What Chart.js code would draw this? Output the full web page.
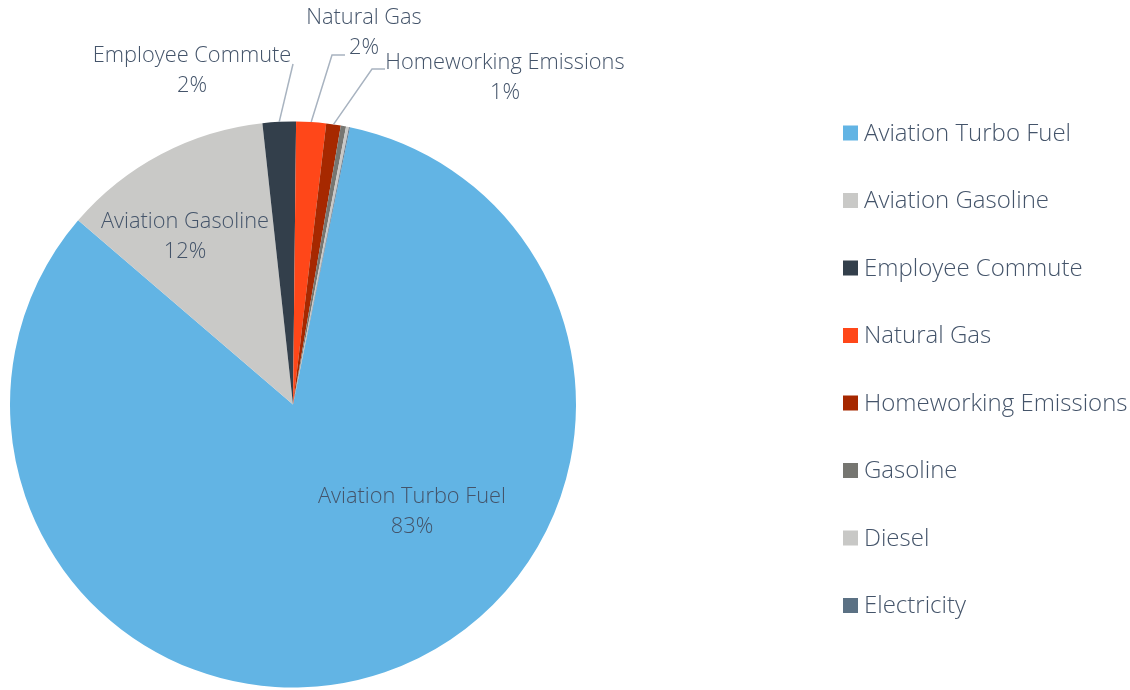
<!DOCTYPE html>
<html>
<head>
<meta charset="utf-8">
<script src="https://cdn.jsdelivr.net/npm/chart.js@4"></script>
<style>
  html, body { margin: 0; padding: 0; background: #fff; }
  #wrap { width: 1130px; height: 690px; position: relative; }
</style>
</head>
<body>
<div id="wrap"><canvas id="pie"></canvas></div>
<script>
// Emission sources and their share (%)
const categories = [
    'Aviation Turbo Fuel', 'Aviation Gasoline', 'Employee Commute', 'Natural Gas',
    'Homeworking Emissions', 'Gasoline', 'Diesel', 'Electricity'
];
const shares = [83.1, 12.0, 1.9, 1.7, 0.83, 0.3, 0.17, 0.05];

const colours = ['#62B4E4', '#C9C9C7', '#333F4B', '#FF4719', '#A62800', '#767671', '#C8C8C6', '#5B7184'];
const textColour = '#44546A';
const leaderColour = '#A8B3C0';

// where each data label sits on the canvas (style only, not data)
const labelPlacement = [
    { text: [412, 512] },
    { text: [185, 237] },
    { text: [192, 71], elbow: [293, 64] },
    { text: [364, 33], elbow: [332, 55], stub: [345, 55] },
    { text: [505, 78], elbow: [372, 69], stub: [385, 69] },
    null, null, null
];

const pieLabels = {
    id: 'pieLabels',
    afterDatasetsDraw(chart) {
        const ctx = chart.ctx;
        const meta = chart.getDatasetMeta(0);
        const total = shares.reduce((a, b) => a + b, 0);
        ctx.save();
        ctx.font = '300 21.8px "Open Sans"';
        ctx.fillStyle = textColour;
        ctx.textAlign = 'center';
        ctx.textBaseline = 'middle';
        meta.data.forEach((arc, i) => {
            const p = labelPlacement[i];
            if (!p) return;
            const pct = Math.round(shares[i] / total * 100) + '%';
            if (p.elbow) {
                const mid = (arc.startAngle + arc.endAngle) / 2;
                const sx = arc.x + arc.outerRadius * Math.cos(mid);
                const sy = arc.y + arc.outerRadius * Math.sin(mid);
                ctx.strokeStyle = leaderColour;
                ctx.lineWidth = 1.5;
                ctx.beginPath();
                ctx.moveTo(sx, sy);
                ctx.lineTo(p.elbow[0], p.elbow[1]);
                if (p.stub) ctx.lineTo(p.stub[0], p.stub[1]);
                ctx.stroke();
            }
            ctx.fillText(categories[i], p.text[0], p.text[1] - 15);
            ctx.fillText(pct, p.text[0], p.text[1] + 15);
        });
        ctx.restore();
    }
};

const sideLegend = {
    id: 'sideLegend',
    afterDraw(chart) {
        const ctx = chart.ctx;
        ctx.save();
        ctx.font = '300 24px "Open Sans"';
        ctx.textBaseline = 'middle';
        ctx.textAlign = 'left';
        categories.forEach((name, i) => {
            const y = 133 + i * 67.5;
            ctx.fillStyle = colours[i];
            ctx.fillRect(843, y - 7.5, 15, 15);
            ctx.fillStyle = textColour;
            ctx.fillText(name, 864, y + 1);
        });
        ctx.restore();
    }
};

new Chart(document.getElementById('pie'), {
    type: 'pie',
    data: {
        labels: categories,
        datasets: [{
            data: shares,
            backgroundColor: colours,
            borderWidth: 0
        }]
    },
    options: {
        responsive: true,
        maintainAspectRatio: false,
        animation: false,
        rotation: 11.6,
        layout: { padding: { left: 10, top: 121, right: 554, bottom: 2 } },
        plugins: {
            legend: { display: false },
            tooltip: { enabled: false }
        }
    },
    plugins: [pieLabels, sideLegend]
});
</script>
</body>
</html>
